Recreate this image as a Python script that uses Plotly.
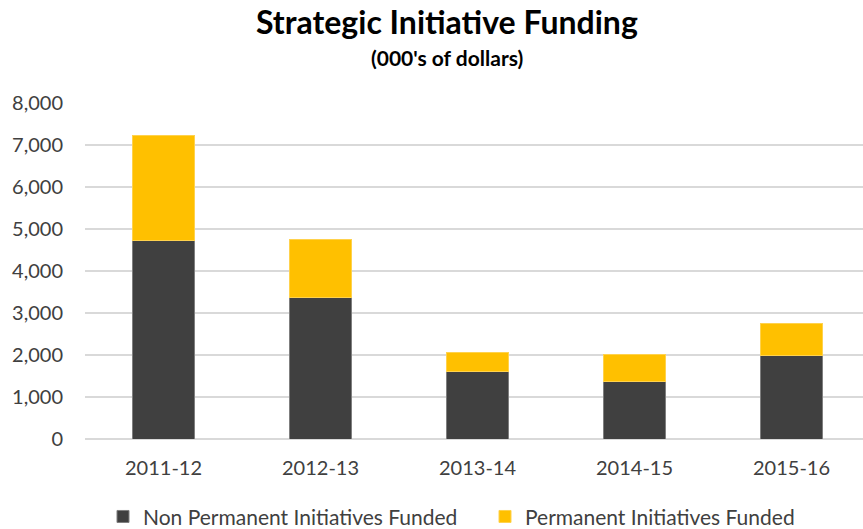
import plotly.graph_objects as go

years = ["2011-12", "2012-13", "2013-14", "2014-15", "2015-16"]
non_permanent = [4720, 3360, 1615, 1360, 1985]
permanent = [2510, 1380, 450, 650, 760]

# plot area spans pixels 103..439 vertically
PLOT_TOP, PLOT_H = 103, 336


def paper_y(px):
    return 1 + (PLOT_TOP - px) / PLOT_H


fig = go.Figure()
fig.add_trace(go.Bar(
    x=years,
    y=non_permanent,
    name="Non Permanent Initiatives Funded",
    marker=dict(color="#404040", line=dict(color="#7f7f7f", width=1)),
))
fig.add_trace(go.Bar(
    x=years,
    y=permanent,
    name="Permanent Initiatives Funded",
    marker=dict(color="#FFC000", line=dict(color="#FFD24D", width=1)),
))

fig.update_layout(
    barmode="stack",
    bargap=0.6,
    width=870,
    height=529,
    margin=dict(l=85, r=0, t=103, b=90, autoexpand=False),
    plot_bgcolor="white",
    paper_bgcolor="white",
    font=dict(family="Lato, sans-serif", size=20, color="#404040"),
    showlegend=True,
    legend=dict(
        orientation="h",
        xref="container", yref="container",
        x=103 / 870, xanchor="left",
        y=0.023, yanchor="middle",
        font=dict(size=21, color="#404040"),
        entrywidth=337,
        traceorder="normal",
        itemwidth=30,
        bgcolor="rgba(0,0,0,0)",
    ),
    annotations=[
        dict(text="<b>Strategic Initiative Funding</b>", x=(447 - 85) / 785, y=paper_y(22),
             xref="paper", yref="paper", yanchor="middle",
             showarrow=False, font=dict(size=32, color="black")),
        dict(text="<b>(000's of dollars)</b>", x=(447 - 85) / 785, y=paper_y(57),
             xref="paper", yref="paper", yanchor="middle",
             showarrow=False, font=dict(size=21, color="black")),
    ],
    xaxis=dict(
        type="category",
        showgrid=False,
        showline=False,
        ticks="",
        ticklabelstandoff=15,
        tickfont=dict(size=20, color="#404040"),
    ),
    yaxis=dict(
        range=[0, 8000],
        dtick=1000,
        tickformat=",",
        showgrid=True,
        gridcolor="#d9d9d9",
        gridwidth=1.5,
        zeroline=True,
        zerolinecolor="#d9d9d9",
        zerolinewidth=1.5,
        ticks="",
        ticklabelstandoff=21,
        tickfont=dict(size=20, color="#404040"),
    ),
)

# drop the default 8px page margin so the figure sits at the window's corner
fig.write_html("out.html", config={"displayModeBar": False},
               post_script="document.body.style.margin='0';")
